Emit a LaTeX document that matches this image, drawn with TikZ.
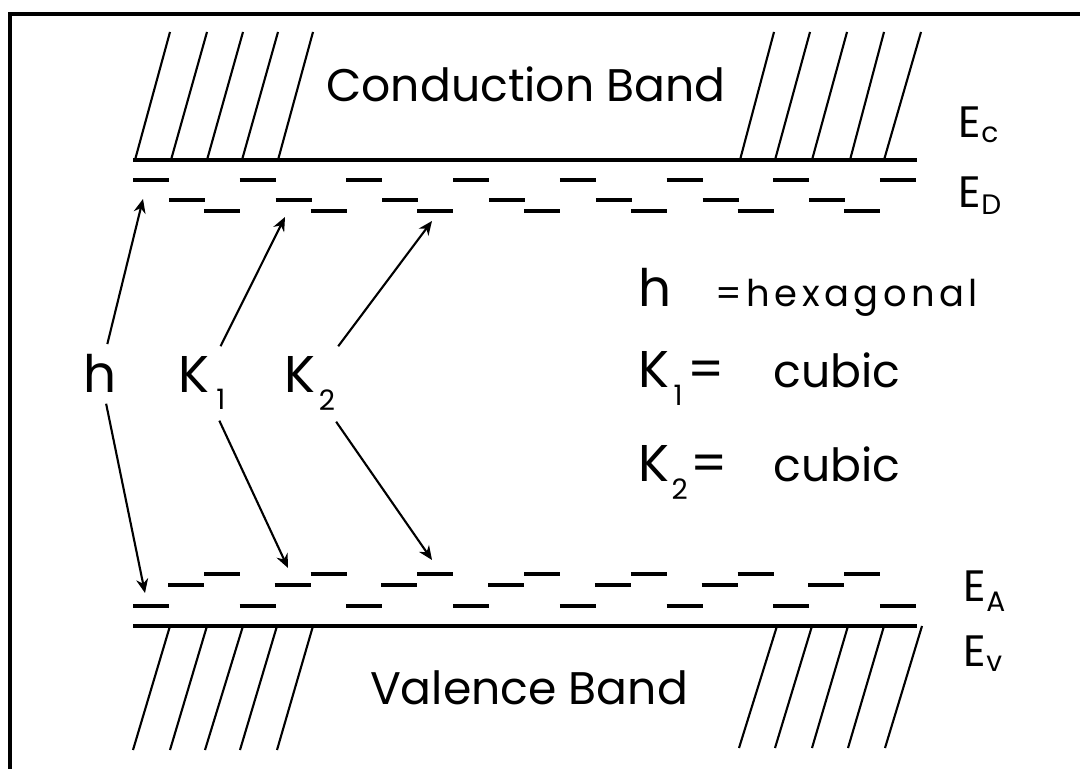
\documentclass[tikz,border=0pt]{standalone}
\usepackage{fontspec}
\setmainfont{Poppins}
\usetikzlibrary{arrows.meta}
\newcommand{\lowsub}[2]{\raisebox{#1}{\fontsize{8}{9}\selectfont #2}}
\tikzset{
  frameline/.style={line width=1.2pt},
  bandline/.style={line width=1.2pt},
  hatchline/.style={line width=0.6pt},
  levelrow/.style={line width=1.1pt, dash pattern=on 0.360cm off 0.707cm},
  arr/.style={line width=0.6pt, -{Stealth[length=1.4mm,width=1.2mm]}},
  sitelab/.style={inner sep=0.1cm, font=\fontsize{14.7}{16}\selectfont},
  keytext/.style={inner sep=0, anchor=base west, font=\fontsize{14.7}{16}\selectfont},
  keysmall/.style={inner sep=0, anchor=base west, font=\fontsize{13}{15}\selectfont},
  bandtext/.style={inner sep=0, anchor=base, font=\fontsize{13}{15}\selectfont},
  elab/.style={inner sep=0, anchor=base west, font=\fontsize{12.5}{14}\selectfont},
}
\begin{document}
\begin{tikzpicture}
\useasboundingbox (0,0) rectangle (10.800,7.690);
\draw[frameline] (0.100,0) -- (0.100,7.550) -- (10.800,7.550);
% band edges
\draw[bandline] (1.330,6.090) -- (9.170,6.090);
\draw[bandline] (1.330,1.430) -- (9.170,1.430);
% conduction band hatching
\draw[hatchline] (1.350,6.090) -- (1.700,7.370);
\draw[hatchline] (1.710,6.090) -- (2.070,7.370);
\draw[hatchline] (2.070,6.090) -- (2.430,7.370);
\draw[hatchline] (2.420,6.090) -- (2.780,7.370);
\draw[hatchline] (2.780,6.090) -- (3.130,7.370);
\draw[hatchline] (7.400,6.090) -- (7.740,7.370);
\draw[hatchline] (7.750,6.090) -- (8.100,7.370);
\draw[hatchline] (8.120,6.090) -- (8.470,7.370);
\draw[hatchline] (8.500,6.090) -- (8.840,7.370);
\draw[hatchline] (8.840,6.090) -- (9.210,7.370);
% valence band hatching
\draw[hatchline] (1.700,1.430) -- (1.330,0.190);
\draw[hatchline] (2.070,1.430) -- (1.700,0.190);
\draw[hatchline] (2.430,1.430) -- (2.050,0.190);
\draw[hatchline] (2.770,1.430) -- (2.400,0.190);
\draw[hatchline] (3.130,1.430) -- (2.770,0.190);
\draw[hatchline] (7.770,1.430) -- (7.390,0.210);
\draw[hatchline] (8.120,1.430) -- (7.750,0.210);
\draw[hatchline] (8.480,1.430) -- (8.120,0.210);
\draw[hatchline] (8.840,1.430) -- (8.480,0.210);
\draw[hatchline] (9.220,1.430) -- (8.850,0.210);
% donor levels
\draw[levelrow] (1.330,5.890) -- (9.170,5.890);
\draw[levelrow] (1.690,5.690) -- (8.450,5.690);
\draw[levelrow] (2.040,5.580) -- (8.810,5.580);
% acceptor levels
\draw[levelrow] (2.040,1.950) -- (8.820,1.950);
\draw[levelrow] (1.680,1.840) -- (8.460,1.840);
\draw[levelrow] (1.330,1.630) -- (9.170,1.630);
% band and level names
\node[bandtext] (cband) at (5.260,6.670) {Conduction Band};
\node[bandtext] (vband) at (5.290,0.640) {Valence Band};
\node[elab] (ec) at (9.580,6.310) {E\lowsub{-0.05cm}{c}};
\node[elab] (ed) at (9.580,5.610) {E\lowsub{-0.07cm}{D}};
\node[elab] (ea) at (9.630,1.670) {E\lowsub{-0.10cm}{A}};
\node[elab] (ev) at (9.630,1.020) {E\lowsub{-0.05cm}{v}};
% lattice sites
\node[sitelab, anchor=base] (hlab) at (1.000,3.760) {h};
\node[sitelab, anchor=base] (kone) at (2.020,3.760) {K\kern0.07cm\lowsub{-0.17cm}{1}};
\node[sitelab, anchor=base] (ktwo) at (3.100,3.760) {K\kern0.03cm\lowsub{-0.18cm}{2}};
\coordinate (hD) at (1.430,5.700);
\coordinate (hA) at (1.450,1.760);
\coordinate (koneD) at (2.850,5.520);
\coordinate (koneA) at (2.880,2.010);
\coordinate (ktwoD) at (4.320,5.480);
\coordinate (ktwoA) at (4.320,2.090);
\draw[arr] (hlab) -- (hD);
\draw[arr] (hlab) -- (hA);
\draw[arr] (kone) -- (koneD);
\draw[arr] (kone) -- (koneA);
\draw[arr] (ktwo) -- (ktwoD);
\draw[arr] (ktwo) -- (ktwoA);
% key
\node[keytext] (keyh) at (6.380,4.620) {h};
\node[keytext, font=\fontsize{10.5}{12}\selectfont\addfontfeature{LetterSpace=12}] (keyhdef) at (7.150,4.620) {=hexagonal};
\node[keytext] (keyone) at (6.380,3.810) {K\kern0.04cm\lowsub{-0.18cm}{1}\kern0.05cm=};
\node[keysmall] (keyonedef) at (7.730,3.810) {cubic};
\node[keytext] (keytwo) at (6.380,2.870) {K\kern0.02cm\lowsub{-0.18cm}{2}\kern0.03cm=};
\node[keysmall] (keytwodef) at (7.730,2.870) {cubic};
\end{tikzpicture}
\end{document}
